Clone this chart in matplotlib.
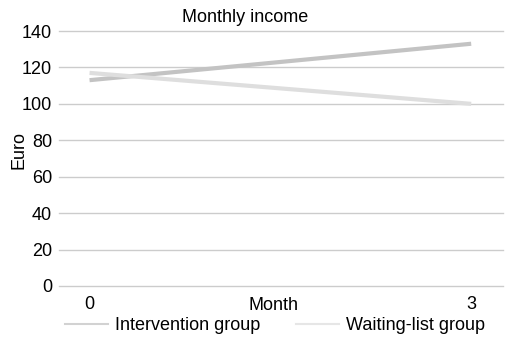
import matplotlib
matplotlib.use("Agg")
import matplotlib.pyplot as plt
from matplotlib.lines import Line2D

plt.rcParams['font.family'] = ['Liberation Sans', 'DejaVu Sans']

months = [0, 3]
month_labels = ["0", "3"]
intervention = [113, 133]
waiting_list = [117, 100]
yticks = [0, 20, 40, 60, 80, 100, 120, 140]

c_int = "#c3c3c3"
c_wait = "#dedede"
FS = 13

fig = plt.figure(figsize=(5.09, 3.41), dpi=100)
ax = fig.add_axes([59 / 509, 1 - 286 / 341, (503 - 59) / 509, (286 - 31) / 341])

ax.plot(months, intervention, color=c_int, lw=3, solid_capstyle="butt")
ax.plot(months, waiting_list, color=c_wait, lw=3, solid_capstyle="butt")

ax.set_ylim(0, 140)
ax.set_yticks(yticks)
ax.set_xlim(-0.24, 3.25)
ax.set_xticks(months)
ax.set_xticklabels(month_labels)
ax.grid(axis="y", color="#cccccc", lw=1)
for gl in ax.get_ygridlines():
    gl.set_clip_on(False)
ax.set_axisbelow(True)
for s in ax.spines.values():
    s.set_visible(False)
ax.tick_params(axis="both", length=0, labelsize=FS, colors="#000000")
ax.tick_params(axis="x", pad=7)
ax.tick_params(axis="y", pad=5)

fig.text(245 / 509, 1 - 18 / 341, "Monthly income", ha="center", va="center", fontsize=FS)
fig.text(19 / 509, 1 - 150 / 341, "Euro", ha="center", va="center", rotation=90, fontsize=FS)
fig.text(274 / 509, 1 - 306 / 341, "Month", ha="center", va="center", fontsize=FS)

handles = [Line2D([], [], color="#d2d2d2", lw=1.5),
           Line2D([], [], color="#e6e6e6", lw=1.5)]
fig.legend(handles, ["Intervention group", "Waiting-list group"],
           loc="center", bbox_to_anchor=(275 / 509, 1 - 326 / 341), ncol=2,
           frameon=False, fontsize=FS, handlelength=2.4, handletextpad=0.4,
           columnspacing=1.95, borderpad=0)

fig.savefig("out.png", dpi=100, facecolor="white")
